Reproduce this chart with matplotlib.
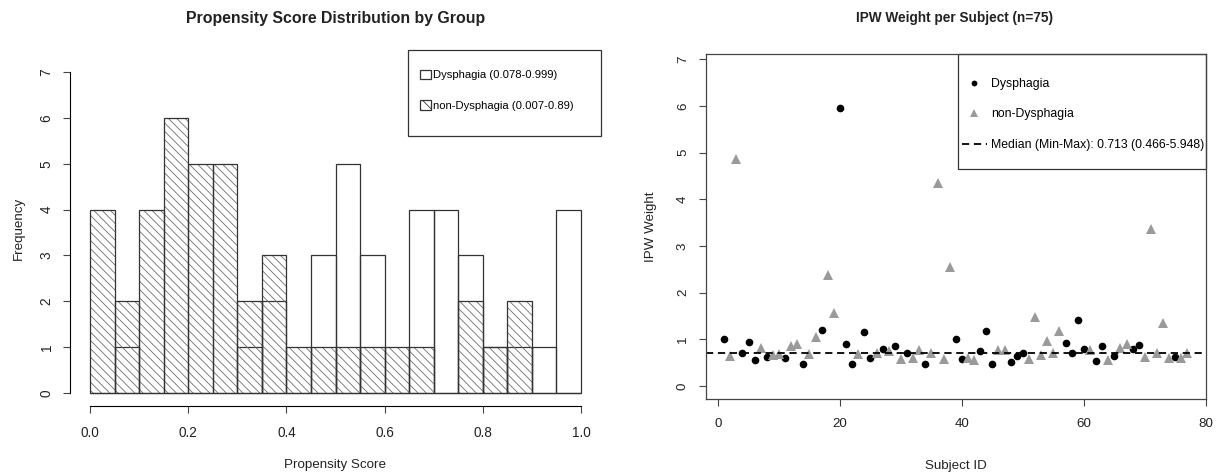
import numpy as np
import matplotlib.pyplot as plt
from matplotlib.patches import Patch, Rectangle
from matplotlib.lines import Line2D

plt.rcParams['font.family'] = ['Liberation Sans', 'DejaVu Sans']
plt.rcParams['font.size'] = 9.6
plt.rcParams['hatch.linewidth'] = 0.6

# histogram: 0.05 wide bins of propensity score
bin_edges = np.round(np.arange(0, 1.0001, 0.05), 2)
dys_counts = [0, 1, 0, 0, 0, 0, 1, 2, 0, 3, 5, 3, 0, 4, 4, 3, 1, 1, 1, 4]
non_counts = [4, 2, 4, 6, 5, 5, 2, 3, 1, 1, 1, 1, 1, 1, 0, 2, 1, 2, 0, 0]

# IPW weight per subject
dys_ids = [1, 4, 5, 6, 8, 11, 14, 17, 20, 21, 22, 24, 25, 27, 29, 31, 34, 39, 40, 43,
           44, 45, 48, 49, 50, 57, 58, 59, 60, 62, 63, 65, 68, 69, 75]
dys_w = [1.01, 0.72, 0.94, 0.56, 0.63, 0.61, 0.47, 1.21, 5.948, 0.91, 0.47, 1.16, 0.60,
         0.79, 0.87, 0.70, 0.466, 1.01, 0.59, 0.76, 1.18, 0.47, 0.51, 0.65, 0.70, 0.92,
         0.72, 1.42, 0.80, 0.53, 0.86, 0.65, 0.79, 0.88, 0.63]
non_ids = [2, 3, 7, 9, 10, 12, 13, 15, 16, 18, 19, 23, 26, 28, 30, 32, 33, 35, 36, 37,
           38, 41, 42, 46, 47, 51, 52, 53, 54, 55, 56, 61, 64, 66, 67, 70, 71, 72, 73, 74,
           76, 77]
non_w = [0.65, 4.87, 0.82, 0.66, 0.68, 0.87, 0.91, 0.68, 1.05, 2.39, 1.57, 0.68, 0.70,
         0.75, 0.59, 0.60, 0.77, 0.72, 4.34, 0.58, 2.55, 0.61, 0.56, 0.77, 0.77, 0.58,
         1.49, 0.66, 0.96, 0.70, 1.19, 0.77, 0.56, 0.82, 0.91, 0.63, 3.37, 0.70, 1.35,
         0.61, 0.61, 0.72]
median_w = 0.713

dys_label = 'Dysphagia (0.078-0.999)'
non_label = 'non-Dysphagia (0.007-0.89)'
median_label = 'Median (Min-Max): 0.713 (0.466-5.948)'

edge = '#333333'
HATCH = '\\\\\\\\'

W, H = 1220, 472
fig = plt.figure(figsize=(W / 100, H / 100), dpi=100)


def box(x0, y0, x1, y1):
    # pixel box -> figure fraction
    return [x0 / W, 1 - y1 / H, (x1 - x0) / W, (y1 - y0) / H]


# ---------------- left: histogram ----------------
ax1 = fig.add_axes(box(70.4, 49.6, 600.6, 406.2))
left = bin_edges[:-1]
width = np.diff(bin_edges)

ax1.bar(left, dys_counts, width=width, align='edge', fill=False,
        edgecolor=edge, linewidth=0.9)
ax1.bar(left, non_counts, width=width, align='edge', fill=False,
        edgecolor='#6e6e6e', linewidth=0, hatch=HATCH)
ax1.bar(left, non_counts, width=width, align='edge', fill=False,
        edgecolor=edge, linewidth=0.9)

ax1.set_xlim(-0.04, 1.04)
ax1.set_ylim(-0.288, 7.488)
ax1.set_xticks([0, 0.2, 0.4, 0.6, 0.8, 1.0])
ax1.set_xticklabels(['0.0', '0.2', '0.4', '0.6', '0.8', '1.0'])
ax1.set_yticks(range(0, 8))
for s in ['top', 'right']:
    ax1.spines[s].set_visible(False)
ax1.spines['left'].set_bounds(0, 7)
ax1.spines['bottom'].set_bounds(0, 1)

ax1.add_patch(Rectangle((0.6367, 0.7577), 1 - 0.6367, 1 - 0.7577,
                        transform=ax1.transAxes, fill=False,
                        edgecolor=edge, linewidth=0.9, clip_on=False))
h1 = [Patch(facecolor='white', edgecolor=edge, linewidth=0.9),
      Patch(facecolor='white', edgecolor=edge, linewidth=0.9, hatch='\\\\\\')]
ax1.legend(h1, [dys_label, non_label], loc='upper left',
           bbox_to_anchor=(0.6594, 0.944), frameon=False, borderpad=0,
           borderaxespad=0, handlelength=0.98, handleheight=0.98,
           handletextpad=0.2, labelspacing=1.75, fontsize=8.1)

ax1.set_xlabel('Propensity Score', labelpad=14)
ax1.set_ylabel('Frequency', labelpad=11)

# ---------------- right: IPW scatter ----------------
ax2 = fig.add_axes(box(705.6, 54, 1206, 399))
ax2.plot(dys_ids, dys_w, 'o', color='black', markersize=5.5, markeredgewidth=0)
ax2.plot(non_ids, non_w, '^', color='#9a9a9a', markersize=6.8, markeredgewidth=0)
ax2.axhline(median_w, color='black', linewidth=1.3, linestyle=(0, (4, 2.6)))

ax2.set_xlim(-2.04, 80.04)
ax2.set_ylim(-0.274, 7.11)
ax2.set_xticks([0, 20, 40, 60, 80])
ax2.set_yticks(range(0, 8))
for s in ax2.spines.values():
    s.set_color('#444444')
    s.set_linewidth(0.9)

ax2.add_patch(Rectangle((0.5044, 0.6667), 1 - 0.5044, 1 - 0.6667,
                        transform=ax2.transAxes, fill=False,
                        edgecolor=edge, linewidth=0.9, clip_on=False))
h2 = [Line2D([], [], marker='o', color='black', linestyle='none',
             markersize=4.2, markeredgewidth=0),
      Line2D([], [], marker='^', color='#9a9a9a', linestyle='none',
             markersize=5.2, markeredgewidth=0),
      Line2D([], [], color='black', linewidth=1.3, linestyle=(0, (4, 2.6)))]
ax2.legend(h2, ['Dysphagia', 'non-Dysphagia', median_label], loc='upper left',
           bbox_to_anchor=(0.5114, 0.930), frameon=False, borderpad=0,
           borderaxespad=0, handlelength=2.1, handletextpad=0.3,
           labelspacing=1.5, fontsize=8.8)

ax2.set_xlabel('Subject ID', labelpad=21)
ax2.set_ylabel('IPW Weight', labelpad=14)

ax1.tick_params(axis='x', direction='out', length=5, width=0.8, color='#444444',
                labelcolor='#222222', pad=9, labelsize=9.8)
ax1.tick_params(axis='y', direction='out', length=5, width=0.8, color='#444444',
                labelcolor='#222222', pad=7, labelsize=9.8)
ax2.tick_params(axis='x', direction='out', length=5, width=0.8, color='#444444',
                labelcolor='#222222', pad=9, labelsize=9.6)
ax2.tick_params(axis='y', direction='out', length=5, width=0.8, color='#444444',
                labelcolor='#222222', pad=7, labelsize=9.6)
for ax in (ax1, ax2):
    plt.setp(ax.get_yticklabels(), rotation=90, va='center')
    ax.xaxis.label.set_color('#222222')
    ax.yaxis.label.set_color('#222222')

fig.text(335.5 / W, 1 - 18 / H, 'Propensity Score Distribution by Group',
         ha='center', va='center', fontsize=11.4, fontweight='bold', color='#222222')
fig.text(955 / W, 1 - 18 / H, 'IPW Weight per Subject (n=75)',
         ha='center', va='center', fontsize=9.8, fontweight='bold', color='#222222')

fig.savefig('out.png', dpi=100)
